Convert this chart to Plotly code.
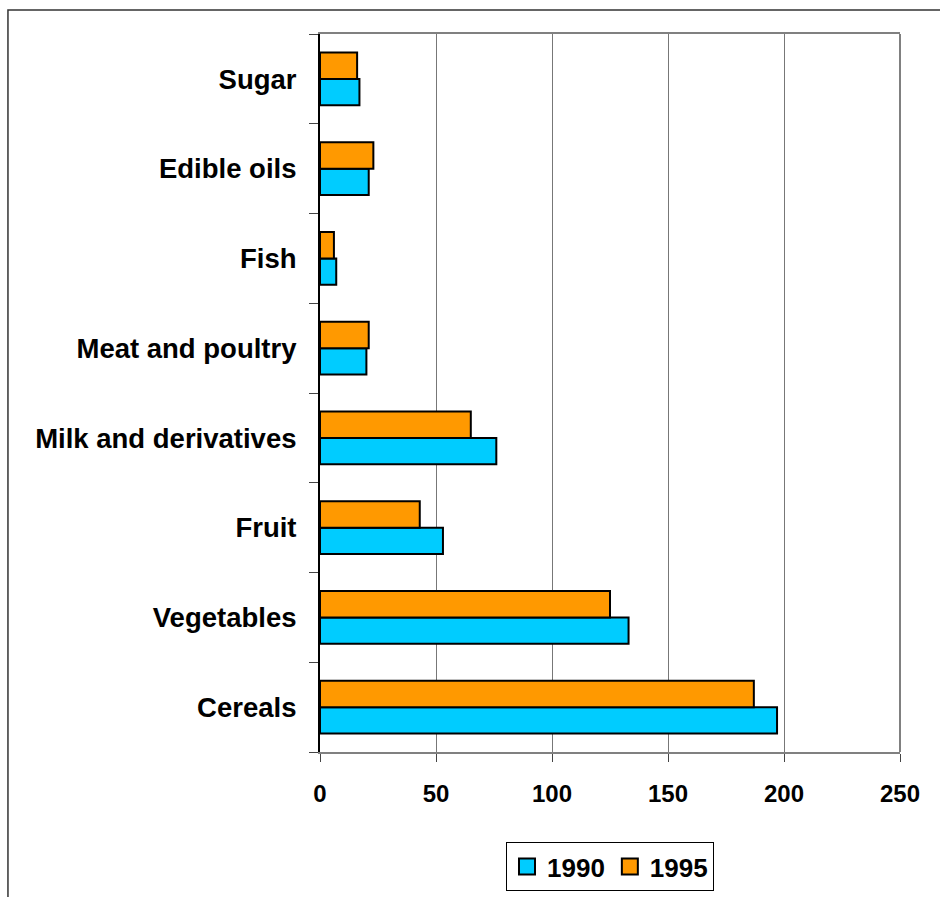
import plotly.graph_objects as go

# Food consumption by category (bottom to top)
categories = ["Cereals", "Vegetables", "Fruit", "Milk and derivatives",
              "Meat and poultry", "Fish", "Edible oils", "Sugar"]
values_1990 = [197, 133, 53, 76, 20, 7, 21, 17]
values_1995 = [187, 125, 43, 65, 21, 6, 23, 16]
x_ticks = [0, 50, 100, 150, 200, 250]

years = ["1990", "1995"]
colors = ["#00CCFF", "#FF9900"]
FONT = "Arial, Liberation Sans, sans-serif"

fig = go.Figure()
for name, vals, col in zip(years, [values_1990, values_1995], colors):
    fig.add_trace(go.Bar(
        y=categories, x=vals, name=name, orientation="h", showlegend=False,
        marker=dict(color=col, line=dict(color="black", width=2)),
    ))
# Legend entries with larger square swatches
for name, col in zip(years, colors):
    fig.add_trace(go.Scatter(
        x=[None], y=[None], mode="markers", name=name,
        marker=dict(symbol="square", size=17, color=col,
                    line=dict(color="black", width=2)),
    ))

fig.update_layout(
    width=940, height=897,
    margin=dict(l=320, r=40, t=34, b=145, autoexpand=False),
    paper_bgcolor="white", plot_bgcolor="white",
    barmode="group", bargap=0.41, bargroupgap=0,
    font=dict(family=FONT, color="black"),
    showlegend=True,
    legend=dict(
        orientation="h", x=0.5, xanchor="center",
        yref="container", y=1 - 842 / 897, yanchor="top",
        bordercolor="black", borderwidth=1, bgcolor="white",
        font=dict(size=26, weight="bold", family=FONT),
        itemwidth=30, traceorder="normal",
    ),
    xaxis=dict(
        range=[0, 250], tickvals=x_ticks, ticktext=[str(v) for v in x_ticks],
        showgrid=True, gridcolor="#777777", gridwidth=1,
        showline=True, linecolor="#808080", linewidth=2, mirror=True,
        ticks="outside", ticklen=8, tickcolor="#444444",
        tickfont=dict(size=24, weight="bold", family=FONT),
        ticklabelstandoff=11,
        zeroline=False, fixedrange=True,
    ),
    yaxis=dict(
        type="category", categoryorder="array", categoryarray=categories,
        showline=True, linecolor="black", linewidth=2,
        ticks="outside", ticklen=9, tickcolor="#444444", tickson="boundaries",
        tickfont=dict(size=27.5, weight="bold", family=FONT),
        ticklabelstandoff=16,
        showgrid=False, fixedrange=True,
    ),
    shapes=[
        # right edge of the plot area
        dict(type="line", xref="paper", yref="paper", x0=1, x1=1, y0=0, y1=1,
             line=dict(color="#808080", width=2)),
        # outer chart frame
        dict(type="rect", xref="paper", yref="paper",
             x0=-0.538, x1=1.3, y0=-0.4, y1=1.0334,
             line=dict(color="#333333", width=1.5), layer="below"),
    ],
)

fig.write_html("out.html")
